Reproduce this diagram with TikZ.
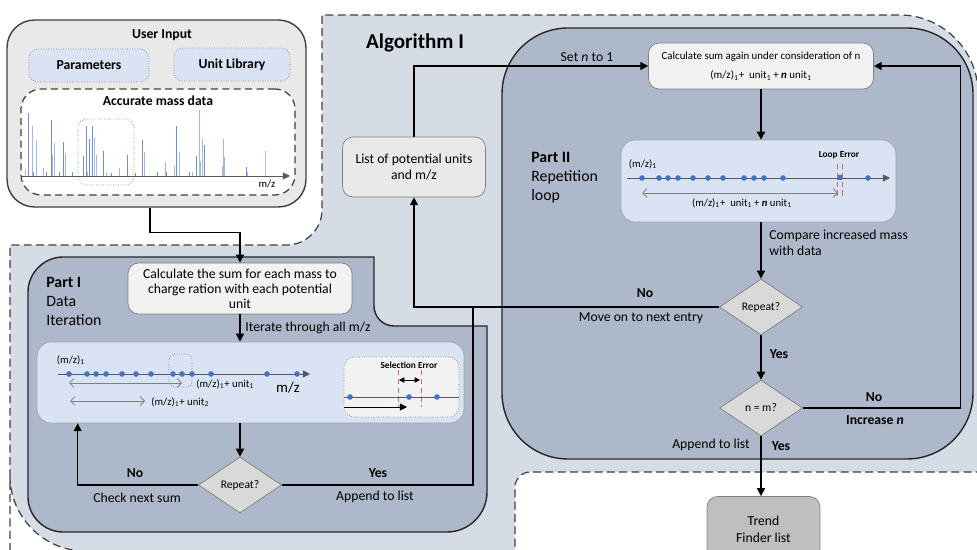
\documentclass[tikz,border=0pt]{standalone}
\usepackage{fontspec}
\setmainfont{Carlito}
\usetikzlibrary{shapes.geometric, arrows.meta, positioning, calc}
\definecolor{algBg}{HTML}{D6DCE5}
\definecolor{partBg}{HTML}{ADB9CA}
\definecolor{lightBlue}{HTML}{DAE3F3}
\definecolor{boxGray}{HTML}{7F7F7F}
\definecolor{calcFill}{HTML}{F2F2F2}
\definecolor{listFill}{HTML}{E9E9E9}
\definecolor{diaFill}{HTML}{D9D9D9}
\definecolor{trendFill}{HTML}{BFBFBF}
\definecolor{dotBlue}{HTML}{4472C4}
\definecolor{barDark}{HTML}{6F8FD0}
\definecolor{barLight}{HTML}{A4B9E2}
\definecolor{errRed}{HTML}{E06666}
\definecolor{usrFill}{HTML}{E9E9E9}
\newcommand{\fsz}[2]{\fontsize{#1}{#2}\selectfont}

\tikzset{
  flow/.style={line width=0.9pt, -{Triangle[length=4.5pt,width=4.5pt]}},
  conn/.style={line width=0.9pt},
  greybox/.style={draw=boxGray, fill=calcFill, rounded corners=6pt, align=center, inner sep=2pt},
  bluebox/.style={draw=boxGray!70, fill=lightBlue, rounded corners=8pt},
  decision/.style={diamond, draw=boxGray, fill=diaFill, inner sep=0pt, minimum width=1.66cm,
                   minimum height=1.12cm, font=\fsz{6.6}{8}},
  txt/.style={font=\fsz{7.8}{9.4}, inner sep=0pt},
  txtb/.style={txt, font=\bfseries\fsz{7.8}{9.4}},
  mini/.style={font=\fsz{6.1}{7}, inner sep=0pt},
  errtxt/.style={font=\bfseries\fsz{5.3}{6}, inner sep=0pt},
  axis/.style={line width=0.5pt, black!65, -{Triangle[length=4pt,width=4pt]}},
  barb/.style={gray, line width=0.5pt, {Straight Barb[length=2.5pt,width=5pt]}-{Straight Barb[length=2.5pt,width=5pt]}},
  mdot/.style={fill=dotBlue},
  errline/.style={errRed, densely dashed, line width=0.5pt},
  region/.style={draw=black!75, line width=0.7pt, dash pattern=on 4.5pt off 2.5pt},
  partbox/.style={draw=black!85, line width=0.8pt, fill=partBg}
}

\begin{document}
\begin{tikzpicture}[x=0.02cm, y=-0.02cm]
  \useasboundingbox (0,0) rectangle (977,550);
  % Algorithm I bereich
  \path[region, fill=algBg] (10,551) -- (10,245) -- (287,245) .. controls (306,245) and (322,229) .. (322,210)
    -- (322,15) -- (900,15) .. controls (942,15) and (978,50) .. (978,93) -- (978,472) -- (530,472)
    .. controls (522,472) and (515,479) .. (515,487) -- (515,551) -- (85,551)
    .. controls (44,551) and (10,517) .. (10,476) -- cycle;
  % Part I und Part II
  \draw[partbox] (28,292) .. controls (28,273) and (44,257) .. (63,257) -- (374,257) -- (374,306)
    .. controls (374,317) and (383,326) .. (394,326) -- (487,326) -- (487,492)
    .. controls (487,514) and (469,532) .. (447,532) -- (63,532)
    .. controls (44,532) and (28,516) .. (28,497) -- cycle;
  \draw[partbox, rounded corners=1.32cm] (502,28) rectangle (973,459);

  % user input
  \node[draw=black!75, line width=0.8pt, fill=usrFill, rounded corners=0.55cm,
        minimum width=5.98cm, minimum height=3.74cm] (usr) at (156.5,113.5) {};
  \node[txtb] (usrT) at (162,35) {User Input};
  \node[draw=boxGray, densely dotted, fill=lightBlue, rounded corners=5pt, minimum width=2.4cm,
        minimum height=0.66cm, font=\bfseries\fsz{7.8}{9}] (par) at (89,65.5) {Parameters};
  \node[draw=boxGray, densely dotted, fill=lightBlue, rounded corners=5pt, minimum width=2.32cm,
        minimum height=0.66cm, font=\bfseries\fsz{7.8}{9}] (lib) at (232,64.5) {Unit Library};
  \node[draw=black!75, line width=0.7pt, dash pattern=on 4pt off 2.5pt, fill=white, rounded corners=0.4cm,
        minimum width=5.48cm, minimum height=2.12cm] (acc) at (158,142) {};
  \node[txtb] (accT) at (158,101) {Accurate mass data};
  % spektrum
  \foreach \x/\t/\c in {25/169/barLight, 28/113/barDark, 32/126/barLight, 33/172/barDark, 36/140/barLight,
      43/168/barLight, 46/172/barDark, 51/120/barDark, 52/155/barLight, 54/143/barLight, 59/172/barDark,
      63/142/barDark, 65/153/barLight, 72/172/barDark, 83/156/barDark, 86/126/barDark, 87/172/barLight,
      89/139/barDark, 92/126/barDark, 94/138/barLight, 96/155/barLight, 103/151/barDark, 106/172/barLight,
      111/173/barDark, 119/168/barLight, 127/155/barDark, 135/173/barDark, 142/140/barDark, 144/152/barLight,
      157/172/barDark, 165/162/barLight, 166/172/barDark, 174/166/barLight, 176/126/barDark, 179/152/barLight,
      189/172/barDark, 192/172/barLight, 196/156/barDark, 199/110/barLight, 200/161/barLight, 202/139/barLight,
      204/145/barDark, 222/166/barLight, 223/139/barLight, 224/157/barLight, 246/167/barDark, 247/172/barLight,
      265/151/barLight}
    {\draw[\c, line width=0.45pt] (\x,176) -- (\x,\t);}
  \draw[axis] (22,176) -- (290,176);
  \node[mini] (mzA) at (267,184) {m/z};
  \draw[boxGray, densely dotted, rounded corners=5pt] (78,119) rectangle (134,185);

  \node[font=\bfseries\fsz{12}{14}, inner sep=0pt] (alg) at (415,43) {Algorithm I};

  % Part I
  \node[anchor=north west, align=left, inner sep=0pt, font=\fsz{9}{10.8}] (p1) at (46,277)
    {\textbf{Part I}\\ Data\\ Iteration};
  \node[greybox, minimum width=4.48cm, minimum height=1.02cm, font=\fsz{7.8}{8.6}] (calc1) at (240,288.5)
    {Calculate the sum for each mass to\\ charge ration with each potential\\ unit};
  \node[bluebox, minimum width=8.54cm, minimum height=1.62cm] (sp1) at (250.5,382.5) {};
  \node[decision] (rep1) at (240,485) {Repeat?};
  \coordinate (jn) at (473,306);

  \draw[flow] ([xshift=-0.13cm]usr.south) -- ++(0,25) -| (calc1.north);
  \draw[flow] (calc1.south) -- (calc1.south |- sp1.north);
  \node[txt, anchor=west] (itr) at (245,328) {Iterate through all m/z};
  \draw[flow] (sp1.south -| rep1.north) -- (rep1.north);
  \draw[flow] (rep1.west) -| ([xshift=0.82cm]sp1.south west);
  \draw[conn] (rep1.east) -| (jn);
  \node[txtb] (no1) at (135,473) {No};
  \node[txt] (chk) at (137,498) {Check next sum};
  \node[txtb] (y1) at (378,473) {Yes};
  \node[txt] (app1) at (375,497) {Append to list};

  % spektrum Part I
  \draw[axis] (58,374) -- (310,374);
  \foreach \x in {69,87,96,106,122,136,151,173,182,192,211,267,297}
    {\fill[mdot] (\x,374) circle (1.6pt);}
  \node[mini] (mz1) at (71,360) {(m/z)\textsubscript{1}};
  \draw[barb] (69,383) -- (182,383);
  \node[mini, anchor=west] (u1) at (196,384) {(m/z)\textsubscript{1}+ unit\textsubscript{1}};
  \node[font=\fsz{8.5}{10}, inner sep=0pt] (mzB) at (288,388) {m/z};
  \draw[barb] (70,401) -- (145,401);
  \node[mini, anchor=west] (u2) at (151,402) {(m/z)\textsubscript{1}+ unit\textsubscript{2}};
  \draw[boxGray, densely dotted, rounded corners=3pt] (169,354) rectangle (192,387);
  % selection error
  \node[draw=boxGray, densely dotted, fill=calcFill, rounded corners=6pt, minimum width=2.3cm,
        minimum height=1.2cm] (selE) at (401.5,387) {};
  \node[errtxt] (selT) at (409,365) {Selection Error};
  \draw[errline] (398,370) -- (398,407);
  \draw[errline] (421,370) -- (421,407);
  \draw[{Triangle[length=3pt,width=3pt]}-{Triangle[length=3pt,width=3pt]}, line width=0.5pt] (399,380) -- (420,380);
  \draw[line width=0.5pt, black!65] (344,397) -- (459,397);
  \foreach \x in {350,409,437} {\fill[mdot] (\x,397) circle (1.6pt);}
  \draw[-{Triangle[length=4pt,width=4pt]}, line width=0.5pt] (344,407) -- (407,407);

  % Part II
  \node[anchor=north west, align=left, inner sep=0pt, font=\fsz{9}{10.8}] (p2) at (531,152)
    {\textbf{Part II}\\ Repetition\\ loop};
  \node[greybox, fill=listFill, minimum width=2.86cm, minimum height=1.2cm, font=\fsz{7.8}{9.6}] (lst) at (414,167)
    {List of potential units\\ and m/z};
  \node[greybox, minimum width=4.5cm, minimum height=0.92cm, font=\fsz{6.2}{11}] (calc2) at (761,66)
    {Calculate sum again under consideration of n\\ (m/z)\textsubscript{1}+~ unit\textsubscript{1}\,+ \textbf{\textit{n}} unit\textsubscript{1}};
  \node[bluebox, minimum width=5.5cm, minimum height=1.64cm] (lp) at (758.5,181) {};
  \node[decision] (rep2) at (761,307) {Repeat?};
  \node[decision] (nm) at (761,408) {n = m?};
  \node[greybox, fill=trendFill, minimum width=2.26cm, minimum height=1.3cm, font=\fsz{7.8}{9.6}] (trd) at (763.5,529)
    {Trend\\ Finder list};

  \draw[flow] (lst.north) |- (calc2.west);
  \node[txt] (setn) at (587,57) {Set \textit{n} to 1};
  \draw[flow] (calc2.south) -- (calc2.south |- lp.north);
  \draw[flow] (lp.south -| rep2.north) -- (rep2.north);
  \node[txt, anchor=north west, align=left, font=\fsz{7.8}{9}] (cmp) at (769,230) {Compare increased mass\\ with data};
  \draw[flow] (rep2.west) -| (lst.south);
  \node[txtb] (no2) at (645,293) {No};
  \node[txt] (mv) at (641,318) {Move on to next entry};
  \draw[flow] (rep2.south) -- (nm.north);
  \node[txtb] (y2) at (779,354) {Yes};
  \draw[flow] (nm.east) -- ++(157.5,0) |- (calc2.east);
  \node[txtb] (no3) at (874,397) {No};
  \node[txtb] (inc) at (875,420) {Increase \textit{n}};
  \draw[flow] (nm.south) -- (nm.south |- trd.north);
  \node[txt] (app2) at (711,445) {Append to list};
  \node[txtb] (y3) at (781,446) {Yes};

  % spektrum Part II
  \node[mini] (mz2) at (643,164) {(m/z)\textsubscript{1}};
  \draw[axis] (627,178) -- (890,178);
  \foreach \x in {642,659,668,678,693,708,723,744,754,764,783,868}
    {\fill[mdot] (\x,178) circle (1.6pt);}
  \fill[mdot] (836.5,175.5) rectangle (841.5,180.5);
  \draw[errline] (837,164) -- (837,199);
  \draw[errline] (842,164) -- (842,199);
  \node[errtxt] (lpT) at (839,155) {Loop Error};
  \draw[barb] (642,193) -- (838,193);
  \node[mini] (un) at (742,203) {(m/z)\textsubscript{1}+~ unit\textsubscript{1}\,+ \textbf{\textit{n}} unit\textsubscript{1}};
\end{tikzpicture}
\end{document}
